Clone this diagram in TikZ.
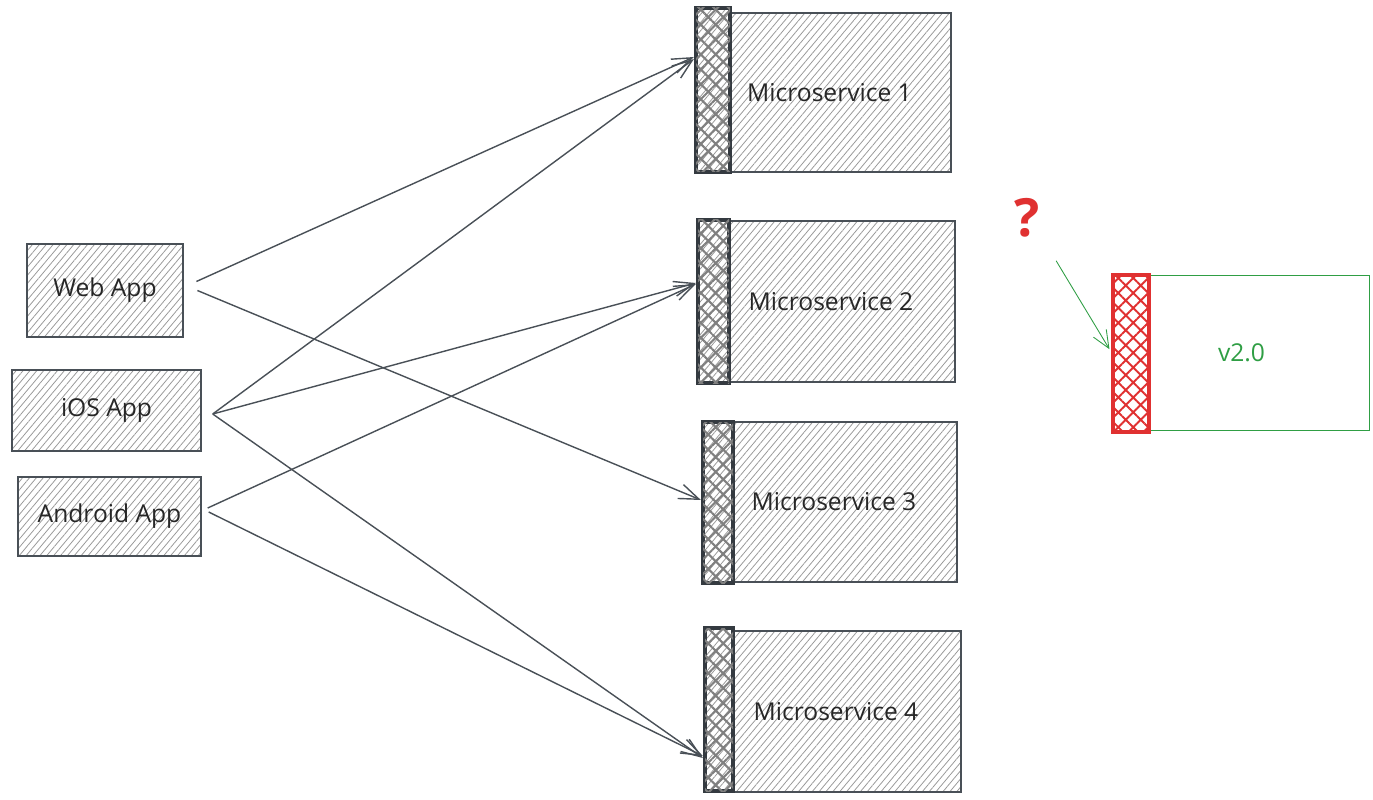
\documentclass[tikz,border=0pt]{standalone}
\usepackage{fontspec}
\setmainfont{Open Sans}
\usepackage{xcolor}
\definecolor{inkgray}{RGB}{73,80,87}
\definecolor{darkstrip}{RGB}{52,58,64}
\definecolor{sketchred}{RGB}{224,49,49}
\definecolor{sketchgreen}{RGB}{47,158,68}
\usetikzlibrary{arrows.meta,patterns.meta,calc}

\begin{document}
\begin{tikzpicture}[
  hatched/.style={pattern={Lines[angle=50,distance=3pt,line width=0.45pt]},pattern color=gray!80},
  box/.style={draw=inkgray,line width=0.8pt,hatched,inner sep=0pt,
    font=\fontsize{14}{16}\selectfont,text=black!85},
  svc/.style={box,execute at begin node=\hspace{-0.44cm}},
  gate/.style={draw=darkstrip,line width=2.4pt,hatched,inner sep=0pt,
    postaction={pattern={Hatch[angle=45,distance=6pt,line width=1.2pt]},pattern color=gray}},
  redgate/.style={draw=sketchred,line width=2.4pt,inner sep=0pt,
    pattern={Hatch[angle=45,distance=6pt,line width=1.1pt]},pattern color=sketchred},
  arr/.style={-{Straight Barb[length=4mm,width=3mm]},inkgray,line width=0.8pt}]
  \useasboundingbox (0,0) rectangle (27.46,-16);
  % clients
  \node[box,minimum width=3.12cm,minimum height=1.86cm](web) at (2.10,-5.81){Web App};
  \node[box,minimum width=3.78cm,minimum height=1.62cm](ios) at (2.13,-8.21){iOS App};
  \node[box,minimum width=3.66cm,minimum height=1.58cm](android) at (2.19,-10.33){Android App};
  % services
  \node[svc,minimum width=4.42cm,minimum height=3.18cm](ms1) at (16.81,-1.85){Microservice 1};
  \node[svc,minimum width=4.52cm,minimum height=3.22cm](ms2) at (16.84,-6.03){Microservice 2};
  \node[svc,minimum width=4.48cm,minimum height=3.20cm](ms3) at (16.90,-10.04){Microservice 3};
  \node[svc,minimum width=4.56cm,minimum height=3.22cm](ms4) at (16.94,-14.23){Microservice 4};
  \node[gate,minimum width=0.68cm,minimum height=3.28cm](gw1) at (14.26,-1.80){};
  \node[gate,minimum width=0.62cm,minimum height=3.26cm](gw2) at (14.27,-6.03){};
  \node[gate,minimum width=0.60cm,minimum height=3.22cm](gw3) at (14.36,-10.05){};
  \node[gate,minimum width=0.56cm,minimum height=3.26cm](gw4) at (14.38,-14.19){};
  % new version
  \node[draw=sketchgreen,line width=0.5pt,minimum width=4.40cm,minimum height=3.10cm,
    font=\fontsize{14}{16}\selectfont,text=sketchgreen](v2) at (25.18,-7.05){\hspace{-0.7cm}v2.0};
  \node[redgate,minimum width=0.72cm,minimum height=3.14cm](gwv) at (22.62,-7.07){};
  \node[text=sketchred,font=\fontsize{30}{32}\selectfont\bfseries](qm) at (20.54,-4.36){?};
  \draw[-{Straight Barb[length=3.5mm,width=3mm]},sketchgreen,line width=0.5pt,shorten <=0.4cm,shorten >=0.1cm]
    (qm.south east)--(gwv.west);
  % calls
  \draw[arr]([xshift=0.26cm,yshift=0.18cm]web.east)--([yshift=0.66cm]gw1.west);
  \draw[arr]([xshift=0.28cm]web.east)--([yshift=0.05cm]gw3.west);
  \draw[arr]([xshift=0.22cm,yshift=-0.07cm]ios.east)--([yshift=0.62cm]gw1.west);
  \draw[arr]([xshift=0.22cm,yshift=-0.07cm]ios.east)--([yshift=0.37cm]gw2.west);
  \draw[arr]([xshift=0.22cm,yshift=-0.07cm]ios.east)--([yshift=-0.97cm]gw4.west);
  \draw[arr]([xshift=0.12cm,yshift=0.17cm]android.east)--([yshift=0.35cm]gw2.west);
  \draw[arr]([xshift=0.14cm,yshift=0.09cm]android.east)--([yshift=-0.93cm]gw4.west);
\end{tikzpicture}
\end{document}
